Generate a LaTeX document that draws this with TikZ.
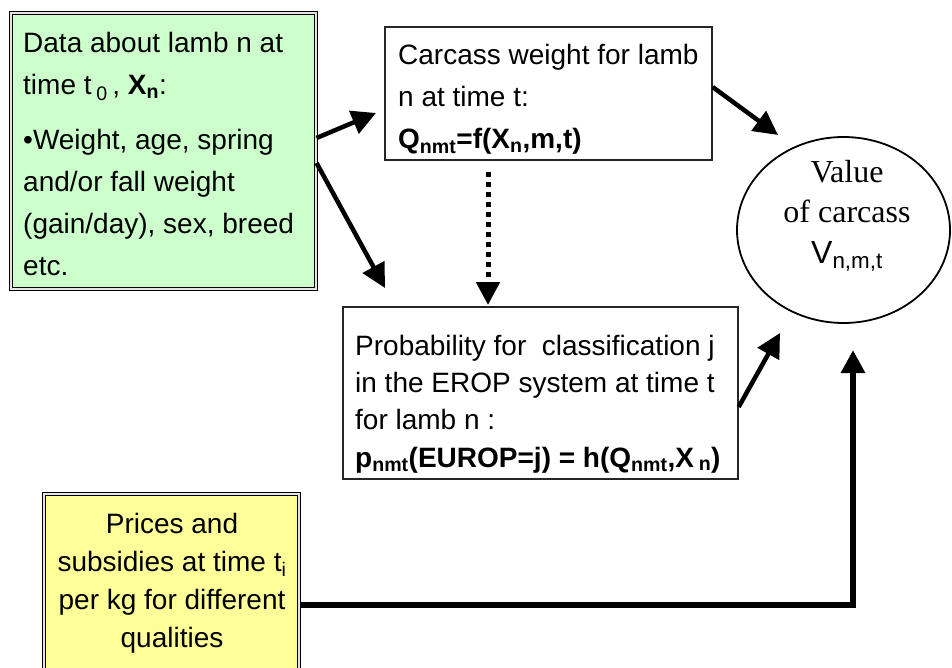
\documentclass[tikz,border=0pt]{standalone}
\usepackage{fontspec}
\setmainfont{Liberation Sans}
\newfontfamily\timesfont{Liberation Serif}
\usetikzlibrary{arrows.meta,shapes.geometric}
\definecolor{datagreen}{RGB}{204,255,204}
\definecolor{priceyellow}{RGB}{255,255,153}
\tikzset{
  x=1pt, y=-1pt,
  inputbox/.style={draw=black, line width=1.1pt, double=black!10, double distance=1.8pt,
    inner sep=0pt, minimum width=#1},
  plainbox/.style={draw=black!85, line width=1.3pt, inner sep=0pt},
  bodytext/.style={inner sep=0pt, align=left, font=\fontsize{28pt}{42pt}\selectfont},
  flow/.style={line width=4.5pt, -{Triangle[length=24pt,width=24pt]}},
  dottedflow/.style={line width=5pt, dash pattern=on 5pt off 5pt,
    -{Triangle[length=23pt,width=23pt]}},
  feed/.style={line width=6pt, -{Triangle[length=23pt,width=23pt]}},
}
\begin{document}
\begin{tikzpicture}
\useasboundingbox (0,0) rectangle (952,668);
\fill[white] (0,0) rectangle (952,668);

% input boxes (text nodes are placed by the baseline of their last line)
\node[inputbox=305pt, fill=datagreen, minimum height=276pt] (data) at (163.5,151) {};
\node[bodytext, anchor=base west] (datatext) at (23,275)
  {Data about lamb n at\\
   time t\,\textsubscript{0}\,, \textbf{X\textsubscript{n}}:\\[12pt]
   •Weight, age, spring\\
   and/or fall weight\\
   (gain/day), sex, breed\\
   etc.};

\node[inputbox=255pt, fill=priceyellow, minimum height=180pt] (prices) at (171.5,584) {};
\node[bodytext, align=center, anchor=base, font=\fontsize{28pt}{38pt}\selectfont]
  (pricetext) at (172,647)
  {Prices and\\
   subsidies at time t\textsubscript{i}\\
   per kg for different\\
   qualities};

% model boxes
\node[plainbox, minimum width=327pt, minimum height=133pt] (carc) at (548.5,93.5) {};
\node[bodytext, anchor=base west] (carctext) at (398,149)
  {Carcass weight for lamb\\
   n at time t:\\
   \textbf{Q\textsubscript{nmt}=f(X\textsubscript{n},m,t)}};

\node[plainbox, minimum width=395pt, minimum height=172pt] (prob) at (540.5,393) {};
\node[bodytext, anchor=base west, font=\fontsize{28pt}{37.3pt}\selectfont] (probtext) at (355,467)
  {Probability for\ \ classification j\\
   in the EROP system at time t\\
   for lamb n :\\
   \textbf{p\textsubscript{nmt}(EUROP=j) = h(Q\textsubscript{nmt},X\,\textsubscript{n})}};

% result
\node[draw=black, line width=1.8pt, ellipse, inner sep=0pt,
      minimum width=213pt, minimum height=186pt] (value) at (843.5,230) {};
\node[inner sep=0pt, align=center, anchor=base, font=\timesfont\fontsize{32pt}{40.5pt}\selectfont]
  (valuetext) at (847,263)
  {Value\\
   of carcass\\
   {\rmfamily\fontsize{32pt}{40.5pt}\selectfont V\textsubscript{n,m,t}}};

% connector ends
\coordinate (tipcarc) at (376,113);
\coordinate (tipprob) at (385,288);
\coordinate (dotstart) at (488,172);
\coordinate (dotend) at (488,305);
\coordinate (tipvalA) at (778,135);
\coordinate (tipvalB) at (780,333);
\coordinate (corner) at (853,605);
\coordinate (tipvalC) at (853,350);

% connectors
\draw[flow] ([yshift=13pt]data.east) -- (tipcarc);
\draw[flow] ([yshift=-12pt]data.east) -- (tipprob);
\draw[dottedflow] (dotstart) -- (dotend);
\draw[flow] ([yshift=6.5pt]carc.east) -- (tipvalA);
\draw[flow] ([yshift=-14pt]prob.east) -- (tipvalB);
\draw[feed] ([yshift=-21pt]prices.east) -- (corner) -- (tipvalC);
\end{tikzpicture}
\end{document}
